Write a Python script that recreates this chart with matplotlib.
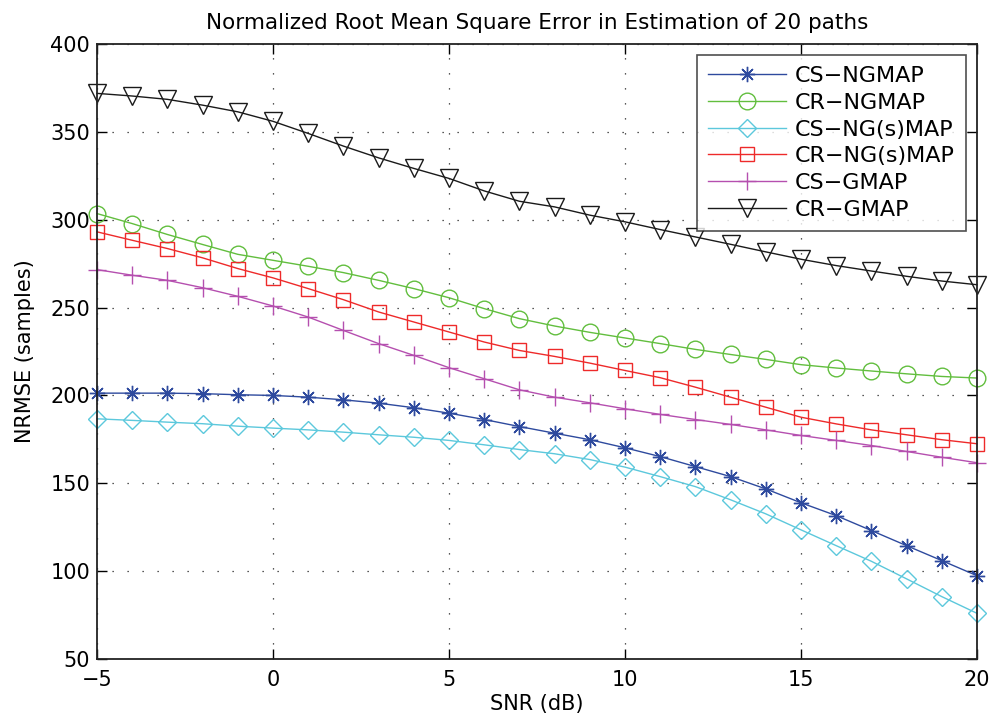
import matplotlib
matplotlib.use("Agg")
import matplotlib.pyplot as plt
import numpy as np

plt.rcParams['font.family'] = ['DejaVu Sans']

snr = list(range(-5, 21))

cs_ngmap = [201.3, 201.3, 201.3, 201.0, 200.4, 200.0, 199.0, 197.5, 195.6, 193.0,
            189.9, 186.3, 182.3, 178.5, 174.8, 170.2, 165.2, 159.5, 153.8, 146.8,
            138.9, 131.6, 123.1, 114.5, 106.0, 97.4]
cr_ngmap = [303.5, 297.8, 291.6, 285.9, 280.3, 276.9, 273.5, 269.9, 265.5, 260.8,
            255.6, 249.4, 243.7, 239.5, 235.9, 232.7, 229.5, 226.2, 223.3, 220.5,
            217.5, 215.6, 213.9, 212.3, 210.8, 209.9]
cs_ngs_map = [186.7, 185.8, 184.8, 183.9, 182.5, 181.4, 180.4, 179.1, 177.6, 176.2,
              174.4, 171.9, 169.2, 166.8, 163.5, 159.2, 153.8, 148.1, 140.6, 132.6,
              123.5, 114.5, 105.6, 95.6, 85.5, 76.0]
cr_ngs_map = [293.1, 288.3, 283.6, 278.3, 272.2, 266.9, 260.8, 254.5, 247.5, 241.8,
              236.1, 230.4, 225.6, 222.2, 218.4, 214.2, 210.1, 204.7, 199.0, 193.3,
              187.6, 183.8, 180.4, 177.6, 174.8, 172.5]
cs_gmap = [271.6, 268.4, 265.5, 261.3, 256.4, 250.9, 244.6, 237.0, 229.5, 222.8,
           215.8, 209.5, 203.2, 199.0, 195.8, 192.4, 189.2, 186.3, 183.5, 180.4,
           177.2, 174.4, 171.5, 168.1, 164.8, 161.7]
cr_gmap = [371.9, 370.4, 368.5, 365.2, 361.4, 356.0, 349.1, 341.9, 335.2, 329.2,
           323.5, 316.4, 310.5, 307.3, 302.6, 298.8, 294.4, 290.2, 286.0, 281.7,
           277.5, 273.9, 270.8, 267.8, 265.1, 263.0]

labels = ['CS\u2212NGMAP', 'CR\u2212NGMAP', 'CS\u2212NG(s)MAP', 'CR\u2212NG(s)MAP',
          'CS\u2212GMAP', 'CR\u2212GMAP']
colors = ['#2E4A9E', '#62BE3E', '#5CC8DC', '#EE2A2A', '#B54FAF', '#1A1A1A']
markers = [(8, 2, 0), 'o', 'D', 's', '+', 'v']
msizes = [11, 12, 9, 9.5, 13, 13]

fig = plt.figure(figsize=(9.95, 7.21), dpi=100)
ax = fig.add_axes([97/995, 1-659/721, (977-97)/995, (659-44)/721])

series = [cs_ngmap, cr_ngmap, cs_ngs_map, cr_ngs_map, cs_gmap, cr_gmap]
for s, lab, c, m, ms in zip(series, labels, colors, markers, msizes):
    ax.plot(snr, s, color=c, marker=m, markersize=ms,
            markerfacecolor='none', markeredgecolor=c, markeredgewidth=1.0,
            linewidth=1.0, label=lab, clip_on=False)

ax.set_xlim(-5, 20)
ax.set_ylim(50, 400)
ax.set_xticks(np.arange(-5, 21, 5))
ax.set_yticks(np.arange(50, 401, 50))
ax.grid(True, linestyle=(0, (1, 11)), color='#222222', linewidth=0.9)
ax.tick_params(direction='in', top=True, right=True, labelsize=15, length=7, width=1)
ax.tick_params(axis='x', pad=8)
ax.tick_params(axis='y', pad=5)
for sp in ax.spines.values():
    sp.set_linewidth(1.3)
    sp.set_color('#222222')

ax.set_title('Normalized Root Mean Square Error in Estimation of 20 paths', fontsize=15.5, pad=11)
ax.set_xlabel('SNR (dB)', fontsize=15, labelpad=3)
ax.set_ylabel('NRMSE (samples)', fontsize=15, labelpad=11)

leg = ax.legend(loc='upper right', fontsize=16, frameon=True, fancybox=False,
                edgecolor='#222222', borderaxespad=0.5, handlelength=3.5,
                labelspacing=0.3, borderpad=0.5, handletextpad=0.4)
leg.get_frame().set_linewidth(1.2)

fig.savefig('out.png', dpi=100)
